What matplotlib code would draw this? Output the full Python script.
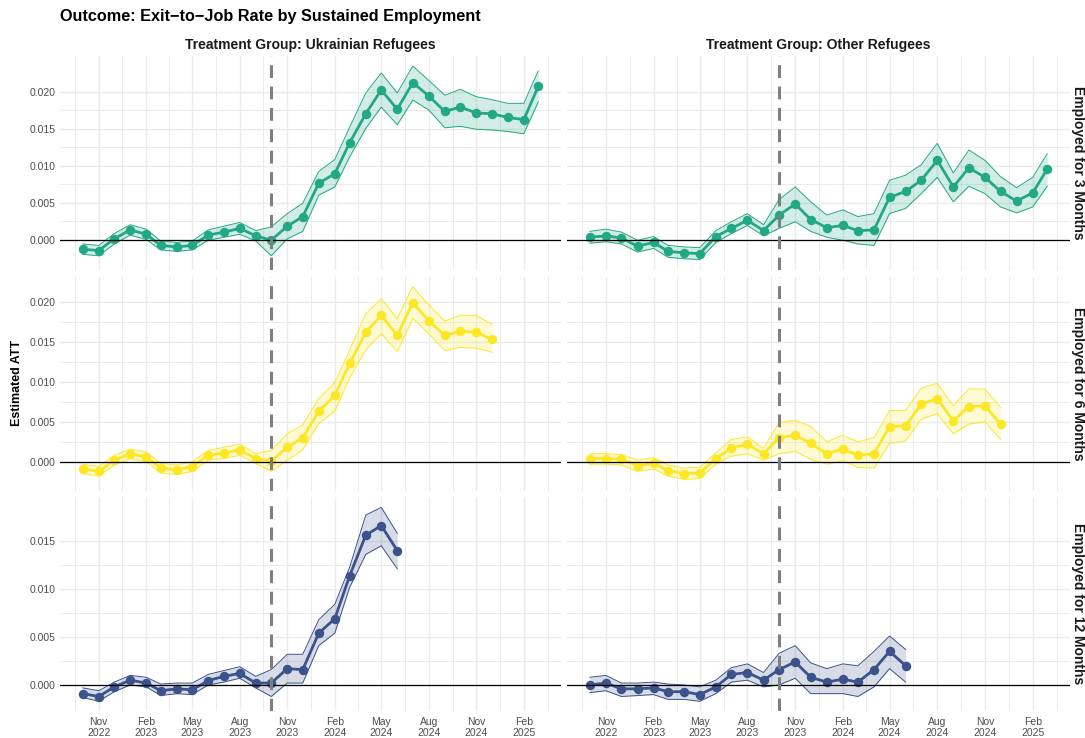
import matplotlib
matplotlib.use("Agg")
import matplotlib.pyplot as plt
import matplotlib.dates as mdates
import numpy as np
from datetime import date

plt.rcParams['font.family'] = ['Liberation Sans', 'DejaVu Sans']

# ---------------- data ----------------
months = ["2022-10", "2022-11", "2022-12", "2023-01", "2023-02", "2023-03", "2023-04",
          "2023-05", "2023-06", "2023-07", "2023-08", "2023-09", "2023-10", "2023-11",
          "2023-12", "2024-01", "2024-02", "2024-03", "2024-04", "2024-05", "2024-06",
          "2024-07", "2024-08", "2024-09", "2024-10", "2024-11", "2024-12", "2025-01",
          "2025-02", "2025-03"]

groups = ["Treatment Group: Ukrainian Refugees", "Treatment Group: Other Refugees"]
outcomes = ["Employed for 3 Months", "Employed for 6 Months", "Employed for 12 Months"]

uk_3m_est = [-0.0013, -0.0015, 0.0001, 0.0013, 0.0007, -0.0008, -0.0010, -0.0008, 0.0006, 0.0010,
             0.0015, 0.0005, -0.0001, 0.0018, 0.0031, 0.0076, 0.0089, 0.0131, 0.0170, 0.0202,
             0.0176, 0.0212, 0.0194, 0.0173, 0.0179, 0.0171, 0.0170, 0.0165, 0.0162, 0.0207]
uk_3m_lo = [-0.0020, -0.0022, -0.0006, 0.0006, 0.0000, -0.0014, -0.0016, -0.0014, -0.0001, 0.0003,
            0.0007, -0.0002, -0.0022, 0.0001, 0.0011, 0.0060, 0.0071, 0.0112, 0.0150, 0.0179,
            0.0155, 0.01885, 0.0175, 0.0151, 0.0153, 0.0149, 0.0148, 0.0146, 0.0143, 0.0186]
uk_3m_hi = [-0.0006, -0.0008, 0.0008, 0.0020, 0.0014, -0.0002, -0.0004, -0.0002, 0.0013, 0.0018,
            0.0023, 0.0012, 0.0017, 0.0035, 0.0049, 0.0092, 0.0108, 0.0152, 0.0198, 0.0225,
            0.0198, 0.02345, 0.0215, 0.0195, 0.0203, 0.0193, 0.0189, 0.0184, 0.0184, 0.0228]

oth_3m_est = [0.0003, 0.0005, 0.0002, -0.0009, -0.0004, -0.0016, -0.0018, -0.0019, 0.0004, 0.0015,
              0.0026, 0.0012, 0.0033, 0.0048, 0.0027, 0.0016, 0.0019, 0.0012, 0.0013, 0.0057,
              0.0065, 0.0080, 0.0107, 0.0071, 0.0097, 0.0084, 0.0065, 0.0052, 0.0063, 0.0095]
oth_3m_lo = [-0.0005, -0.0003, -0.0006, -0.0017, -0.0012, -0.0024, -0.0026, -0.0027, -0.0004, 0.0008,
             0.0019, 0.0005, 0.0015, 0.0024, 0.0011, 0.0003, -0.0001, -0.0006, -0.0008, 0.0035,
             0.0042, 0.0062, 0.0084, 0.0051, 0.0072, 0.0062, 0.0044, 0.0036, 0.0044, 0.0072]
oth_3m_hi = [0.0011, 0.0014, 0.0010, -0.0001, 0.0004, -0.0008, -0.0010, -0.0011, 0.0012, 0.0024,
             0.0035, 0.0020, 0.0054, 0.0071, 0.0051, 0.0033, 0.0040, 0.0031, 0.0035, 0.0080,
             0.0087, 0.0101, 0.0130, 0.0090, 0.0121, 0.0107, 0.0085, 0.0070, 0.0084, 0.0116]

uk_6m_est = [-0.0009, -0.0012, 0.0002, 0.0010, 0.0006, -0.0008, -0.0010, -0.0006, 0.0008, 0.0011,
             0.0015, 0.0004, 0.0001, 0.0018, 0.0030, 0.0063, 0.0083, 0.0123, 0.0162, 0.0183,
             0.0158, 0.0199, 0.0176, 0.0158, 0.0163, 0.0162, 0.0153]
uk_6m_lo = [-0.0015, -0.0018, -0.0004, 0.0004, 0.0000, -0.0014, -0.0016, -0.0012, 0.0002, 0.0004,
            0.0008, -0.0002, -0.0012, 0.0002, 0.0015, 0.0048, 0.0063, 0.0105, 0.0140, 0.0160,
            0.0138, 0.0179, 0.0160, 0.0139, 0.0143, 0.0142, 0.0137]
uk_6m_hi = [-0.0003, -0.0006, 0.0008, 0.0016, 0.0012, -0.0002, -0.0004, 0.0000, 0.0014, 0.0018,
            0.0022, 0.0010, 0.0014, 0.0035, 0.0046, 0.0079, 0.0099, 0.0140, 0.0185, 0.0204,
            0.0179, 0.0219, 0.0196, 0.0176, 0.0183, 0.0183, 0.0172]

oth_6m_est = [0.0004, 0.0004, 0.0003, -0.0005, -0.0002, -0.0011, -0.0015, -0.0014, 0.0004, 0.0017,
              0.0022, 0.0010, 0.0030, 0.0033, 0.0023, 0.0010, 0.0016, 0.0008, 0.0010, 0.0044,
              0.0045, 0.0072, 0.0079, 0.0051, 0.0069, 0.0070, 0.0047]
oth_6m_lo = [-0.0003, -0.0003, -0.0004, -0.0012, -0.0009, -0.0018, -0.0022, -0.0021, -0.0003, 0.0007,
             0.0010, 0.0002, 0.0010, 0.0013, 0.0003, -0.0003, 0.0001, -0.0007, -0.0008, 0.0023,
             0.0026, 0.0053, 0.0060, 0.0035, 0.0047, 0.0050, 0.0028]
oth_6m_hi = [0.0010, 0.0010, 0.0009, 0.0002, 0.0005, -0.0004, -0.0008, -0.0007, 0.0011, 0.0028,
             0.0031, 0.0017, 0.0049, 0.0052, 0.0044, 0.0025, 0.0033, 0.0025, 0.0030, 0.0064,
             0.0064, 0.0092, 0.0098, 0.0070, 0.0091, 0.0091, 0.0068]

uk_12m_est = [-0.0009, -0.0012, -0.0002, 0.0005, 0.0002, -0.0006, -0.0004, -0.0005, 0.00045, 0.0009,
              0.0012, 0.0002, 0.0002, 0.0017, 0.0016, 0.0054, 0.0069, 0.0114, 0.0156, 0.0166, 0.0140]
uk_12m_lo = [-0.0013, -0.0017, -0.0007, 0.0000, -0.0002, -0.0011, -0.0009, -0.0010, 0.0000, 0.0003,
             0.0007, -0.0003, -0.0012, 0.0002, 0.0002, 0.0041, 0.0054, 0.0102, 0.0136, 0.0145, 0.0121]
uk_12m_hi = [-0.0003, -0.0006, 0.0003, 0.0010, 0.0008, 0.0001, 0.0002, 0.0002, 0.0011, 0.0015,
             0.0019, 0.0009, 0.0016, 0.0032, 0.0032, 0.0068, 0.0084, 0.0123, 0.0177, 0.0185, 0.0158]

oth_12m_est = [0.0000, 0.0002, -0.0004, -0.0004, -0.0003, -0.0007, -0.0007, -0.0010, -0.0002, 0.0011,
               0.0013, 0.0005, 0.0016, 0.0024, 0.0008, 0.0003, 0.0006, 0.0003, 0.0016, 0.0035, 0.0020]
oth_12m_lo = [-0.0008, -0.0006, -0.0012, -0.0011, -0.0010, -0.0015, -0.0015, -0.0017, -0.0009, 0.0003,
              0.0005, -0.0002, 0.0000, 0.0007, -0.0009, -0.0009, -0.0009, -0.0012, -0.0002, 0.0017, 0.0003]
oth_12m_hi = [0.0008, 0.0010, 0.0002, 0.0002, 0.0003, 0.0001, 0.0000, -0.0002, 0.0005, 0.0018,
              0.0022, 0.0013, 0.0033, 0.0041, 0.0023, 0.0017, 0.0022, 0.0020, 0.0035, 0.0051, 0.0037]

treatment_month = "2023-10"

tick_months = ["2022-11", "2023-02", "2023-05", "2023-08", "2023-11", "2024-02",
               "2024-05", "2024-08", "2024-11", "2025-02"]
tick_labels = ["Nov\n2022", "Feb\n2023", "May\n2023", "Aug\n2023", "Nov\n2023", "Feb\n2024",
               "May\n2024", "Aug\n2024", "Nov\n2024", "Feb\n2025"]
y_ticks = [[0.000, 0.005, 0.010, 0.015, 0.020],
           [0.000, 0.005, 0.010, 0.015, 0.020],
           [0.000, 0.005, 0.010, 0.015]]

series = [
    [(uk_3m_est, uk_3m_lo, uk_3m_hi), (oth_3m_est, oth_3m_lo, oth_3m_hi)],
    [(uk_6m_est, uk_6m_lo, uk_6m_hi), (oth_6m_est, oth_6m_lo, oth_6m_hi)],
    [(uk_12m_est, uk_12m_lo, uk_12m_hi), (oth_12m_est, oth_12m_lo, oth_12m_hi)],
]
colors = ["#22A884", "#FDE725", "#3B528B"]


def m2num(m):
    y, mo = m.split("-")
    return mdates.date2num(date(int(y), int(mo), 1))


x_all = np.array([m2num(m) for m in months])
major = np.array([m2num(m) for m in tick_months])
minor = np.concatenate([[major[0] - (major[1] - major[0]) / 2],
                        (major[:-1] + major[1:]) / 2,
                        [major[-1] + (major[-1] - major[-2]) / 2]])

# ---------------- layout ----------------
W, H = 1085, 738
fig = plt.figure(figsize=(W / 100, H / 100), dpi=100)
fig.patch.set_facecolor("white")

col_x = [(60, 561), (567, 1070)]
row_y = [(56, 270), (277, 491), (497, 711)]
ylims = [(-0.00412, 0.0248), (-0.00366, 0.0231), (-0.00271, 0.01958)]
xlim = (mdates.date2num(date(2022, 8, 18)), mdates.date2num(date(2025, 4, 14)))

tick_color = "#4D4D4D"
grid_color = "#EBEBEB"

for r in range(3):
    for c in range(2):
        x0, x1 = col_x[c]
        y0, y1 = row_y[r]
        ax = fig.add_axes([x0 / W, 1 - y1 / H, (x1 - x0) / W, (y1 - y0) / H])
        ax.set_facecolor("white")
        for s in ax.spines.values():
            s.set_visible(False)
        est, lo, hi = series[r][c]
        n = len(est)
        xs = x_all[:n]
        col = colors[r]

        ax.fill_between(xs, lo, hi, color=col, alpha=0.2, linewidth=0, zorder=2)
        ax.plot(xs, lo, color=col, lw=0.7, zorder=3)
        ax.plot(xs, hi, color=col, lw=0.7, zorder=3)
        ax.plot(xs, est, color=col, lw=2.0, zorder=4, solid_joinstyle="round")
        ax.plot(xs, est, 'o', color=col, markersize=6.8, markeredgewidth=0, zorder=5)
        ax.axhline(0, color="black", lw=0.9, zorder=6)
        ax.axvline(m2num(treatment_month), color="#7F7F7F", lw=2.2,
                   linestyle=(0, (4.2, 2.8)), zorder=7)

        ax.set_xlim(*xlim)
        ax.set_ylim(*ylims[r])
        ax.set_xticks(major)
        ax.set_xticks(minor, minor=True)
        ax.set_yticks(y_ticks[r])
        yt = np.array(y_ticks[r])
        ax.set_yticks((yt[:-1] + yt[1:]) / 2, minor=True)
        ax.grid(which="major", color=grid_color, lw=1.0, zorder=0)
        ax.grid(which="minor", color=grid_color, lw=0.7, zorder=0)
        ax.set_axisbelow(True)
        ax.tick_params(which="both", length=0, labelsize=7.5, labelcolor=tick_color, pad=3)
        if r == 2:
            ax.set_xticklabels(tick_labels)
        else:
            ax.set_xticklabels([])
        if c == 0:
            ax.set_yticklabels(["%.3f" % v for v in y_ticks[r]])
        else:
            ax.set_yticklabels([])
        ax.tick_params(axis="x", pad=4)

# strips
for c in range(2):
    xc = (col_x[c][0] + col_x[c][1]) / 2
    fig.text(xc / W, 1 - 45 / H, groups[c], ha="center", va="center",
             fontsize=10, fontweight="bold", color="#1A1A1A")
for r in range(3):
    yc = (row_y[r][0] + row_y[r][1]) / 2
    fig.text(1078 / W, 1 - yc / H, outcomes[r], ha="center", va="center",
             rotation=270, fontsize=10, fontweight="bold", color="#1A1A1A")

fig.text(60 / W, 1 - 17 / H, "Outcome: Exit\u2212to\u2212Job Rate by Sustained Employment",
         ha="left", va="center", fontsize=11.7, fontweight="bold", color="black")
fig.text(17 / W, 1 - 383 / H, "Estimated ATT", ha="center", va="center",
         rotation=90, fontsize=9, fontweight="bold", color="black")

fig.savefig("out.png", dpi=100, facecolor="white")
